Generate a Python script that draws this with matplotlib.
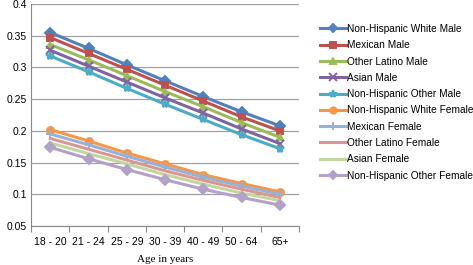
import matplotlib
matplotlib.use("Agg")
import matplotlib.pyplot as plt
from matplotlib.ticker import FixedLocator, FormatStrFormatter

ages = ["18 - 20", "21 - 24", "25 - 29", "30 - 39", "40 - 49", "50 - 64", "65+"]

nhw_male = [0.355, 0.330, 0.304, 0.279, 0.254, 0.230, 0.208]
mex_male = [0.347, 0.322, 0.297, 0.272, 0.247, 0.222, 0.200]
oth_lat_male = [0.336, 0.312, 0.287, 0.262, 0.238, 0.213, 0.190]
asian_male = [0.327, 0.302, 0.277, 0.252, 0.228, 0.203, 0.180]
nh_other_male = [0.318, 0.293, 0.267, 0.242, 0.218, 0.194, 0.172]

nhw_female = [0.202, 0.184, 0.165, 0.148, 0.131, 0.117, 0.104]
mex_female = [0.195, 0.178, 0.160, 0.143, 0.127, 0.113, 0.100]
oth_lat_female = [0.188, 0.171, 0.154, 0.137, 0.122, 0.108, 0.095]
asian_female = [0.181, 0.164, 0.148, 0.131, 0.116, 0.102, 0.090]
nh_other_female = [0.174, 0.156, 0.139, 0.123, 0.108, 0.095, 0.083]

series = [
    ("Non-Hispanic White Male", nhw_male, "#4F81BD", "D"),
    ("Mexican Male", mex_male, "#C0504D", "s"),
    ("Other Latino Male", oth_lat_male, "#9BBB59", "^"),
    ("Asian Male", asian_male, "#8064A2", "x"),
    ("Non-Hispanic Other Male", nh_other_male, "#4BACC6", "*"),
    ("Non-Hispanic White Female", nhw_female, "#F79646", "o"),
    ("Mexican Female", mex_female, "#95B3D7", "+"),
    ("Other Latino Female", oth_lat_female, "#D99694", None),
    ("Asian Female", asian_female, "#C3D69B", None),
    ("Non-Hispanic Other Female", nh_other_female, "#B3A2C7", "D"),
]

plt.rcParams["font.family"] = ["Liberation Sans", "DejaVu Sans"]

fig = plt.figure(figsize=(4.73, 2.65), dpi=100)
ax = fig.add_axes([0.066, 0.147, 0.566, 0.838])

x = range(len(ages))
for name, vals, col, mk in series:
    ax.plot(x, vals, color=col, lw=2.2, marker=mk, ms=5 if mk not in ("x", "+", "*") else 6,
            mew=1.4, label=name)

ax.set_ylim(0.05, 0.4)
ax.set_xlim(-0.5, 6.5)
ax.set_yticks([0.05, 0.1, 0.15, 0.2, 0.25, 0.3, 0.35, 0.4])
ax.yaxis.set_major_formatter(FormatStrFormatter("%g"))
ax.tick_params(axis="y", length=0, labelsize=7.5, pad=3)
ax.grid(axis="y", color="#a0a0a0", lw=0.9)
ax.set_axisbelow(True)

ax.xaxis.set_major_locator(FixedLocator([i - 0.5 for i in range(len(ages) + 1)]))
ax.xaxis.set_minor_locator(FixedLocator(list(x)))
ax.set_xticklabels([], minor=False)
ax.set_xticklabels(ages, minor=True)
ax.tick_params(axis="x", which="major", length=4, color="#888888", direction="out")
ax.tick_params(axis="x", which="minor", length=0, labelsize=7.5, pad=8)

for s in ["top", "right"]:
    ax.spines[s].set_visible(False)
for s in ["left", "bottom"]:
    ax.spines[s].set_color("#888888")

ax.set_xlabel("Age in years", family="Liberation Serif", fontsize=8, labelpad=6)

fig.legend(loc="upper left", bbox_to_anchor=(0.668, 0.925), frameon=False,
           fontsize=7.3, handlelength=2.6, handletextpad=0.1, labelspacing=0.62,
           borderaxespad=0, markerscale=0.9)

fig.savefig("out.png", dpi=100)
